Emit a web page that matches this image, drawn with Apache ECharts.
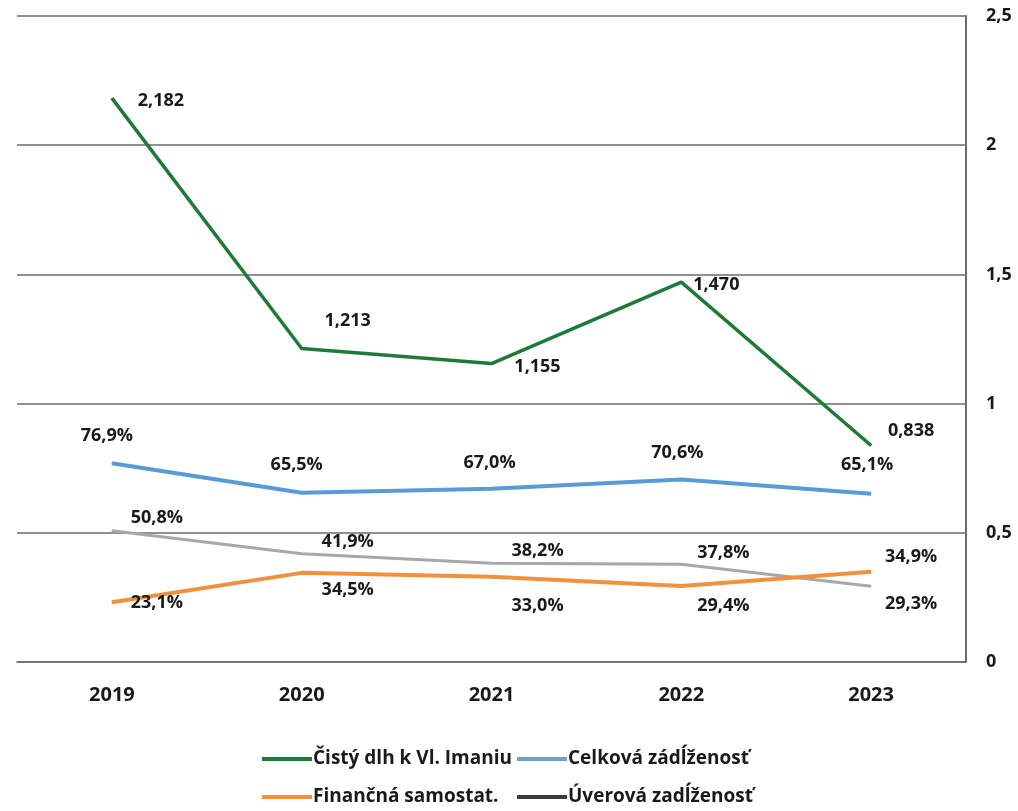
<!DOCTYPE html>
<html>
<head>
<meta charset="utf-8">
<script src="https://cdn.jsdelivr.net/npm/echarts@6/dist/echarts.min.js"></script>
<style>
html,body{margin:0;padding:0;background:#fff;}
#chart{width:1018px;height:811px;}
</style>
</head>
<body>
<div id="chart"></div>
<script>
const categories = ['2019', '2020', '2021', '2022', '2023'];
const cistyDlh = [2.182, 1.213, 1.155, 1.470, 0.838];
const celkovaZadlzenost = [0.769, 0.655, 0.670, 0.706, 0.651];
const financnaSamostat = [0.231, 0.345, 0.330, 0.294, 0.349];
const uverovaZadlzenost = [0.508, 0.419, 0.382, 0.378, 0.293];
const yTicks = ['0', '0,5', '1', '1,5', '2', '2,5'];

const FONT = 'Open Sans';
const labelFont = {fontFamily: FONT, fontWeight: 'bold', fontSize: 18, color: '#1a1a1a'};

// label offsets (styling only)
const offGreen = [[49, 3], [46, -28], [46, 3], [35, 3], [40, -15]];
const offBlue = [[-5, -27], [-5, -28], [-2, -26], [-4, -27], [-4, -29]];
const offGray = [[45, -13], [46, -12], [46, -12], [42, -11], [40, 18]];
const offOrange = [[45, 1], [46, 17], [46, 29], [42, 20], [40, -15]];

function fmtNum(v) { return v.toFixed(3).replace('.', ','); }
function fmtPct(v) { return (v * 100).toFixed(1).replace('.', ',') + '%'; }

function mkData(vals, offs, fmt) {
  return vals.map((v, i) => ({
    value: v,
    label: {show: true, position: 'inside', align: 'center', verticalAlign: 'middle',
      offset: offs[i], formatter: fmt(v), ...labelFont}
  }));
}

function mkSeries(name, vals, offs, fmt, color, width, z) {
  return {
    name: name, type: 'line', data: mkData(vals, offs, fmt),
    symbol: 'circle', symbolSize: 1, showSymbol: true,
    itemStyle: {color: color},
    lineStyle: {color: color, width: width},
    z: z, animation: false
  };
}

const GREEN = '#1f7a3a', BLUE = '#5b9bd5', ORANGE = '#f0913d', GRAY = '#a8a8a8';

function mkLegend(name, color, left, centerY) {
  return {
    left: left, top: centerY - 13, itemWidth: 50, itemHeight: 4,
    icon: 'rect', padding: 0,
    textStyle: {fontFamily: FONT, fontWeight: 'bold', fontSize: 19, color: '#1a1a1a',
      padding: [0, 0, 0, -4], lineHeight: 26},
    data: [{name: name, itemStyle: {color: color}}]
  };
}

const chart = echarts.init(document.getElementById('chart'));
chart.setOption({
  backgroundColor: '#ffffff',
  animation: false,
  grid: {left: 17, right: 52, top: 16, bottom: 149, containLabel: false},
  xAxis: {
    type: 'category', data: categories, boundaryGap: true,
    axisLine: {show: true, lineStyle: {color: '#6b6b6b', width: 1.5}},
    axisTick: {show: false},
    axisLabel: {margin: 23, fontFamily: FONT, fontWeight: 'bold', fontSize: 20, color: '#1a1a1a'}
  },
  yAxis: {
    type: 'value', position: 'right', min: 0, max: 2.5, interval: 0.5,
    axisLine: {show: true, lineStyle: {color: '#6b6b6b', width: 2}},
    axisTick: {show: false},
    splitLine: {show: true, lineStyle: {color: '#6b6b6b', width: 1.5}},
    axisLabel: {margin: 20, fontFamily: FONT, fontWeight: 'bold', fontSize: 18, color: '#1a1a1a',
      formatter: (v) => yTicks[Math.round(v / 0.5)]}
  },
  legend: [
    mkLegend('Čistý dlh k Vl. Imaniu', GREEN, 262, 759),
    mkLegend('Celková zádĺženosť', '#6f9fcc', 517, 759),
    mkLegend('Finančná samostat.', ORANGE, 262, 797),
    mkLegend('Úverová zadĺženosť', '#3a3a3a', 517, 797)
  ],
  series: [
    mkSeries('Čistý dlh k Vl. Imaniu', cistyDlh, offGreen, fmtNum, GREEN, 3.5, 5),
    mkSeries('Celková zádĺženosť', celkovaZadlzenost, offBlue, fmtPct, BLUE, 4, 4),
    mkSeries('Finančná samostat.', financnaSamostat, offOrange, fmtPct, ORANGE, 4, 3),
    mkSeries('Úverová zadĺženosť', uverovaZadlzenost, offGray, fmtPct, GRAY, 3, 2)
  ]
});
</script>
</body>
</html>
